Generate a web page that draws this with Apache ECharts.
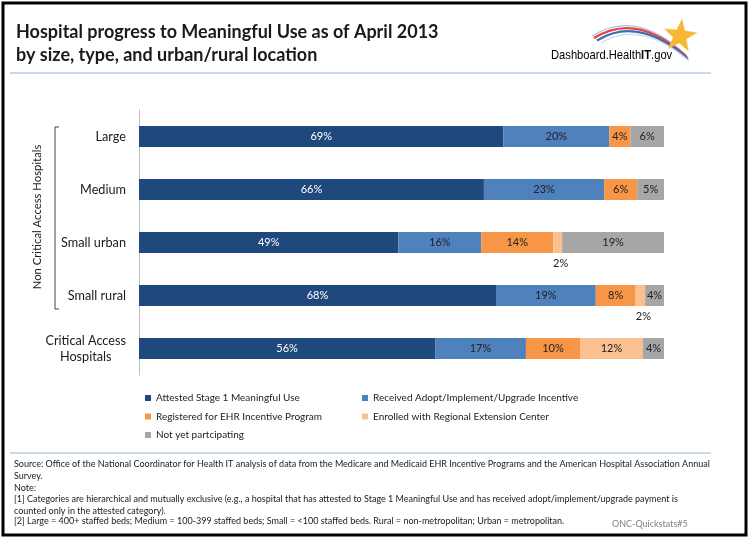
<!DOCTYPE html>
<html>
<head>
<meta charset="utf-8">
<script src="https://cdn.jsdelivr.net/npm/echarts@6/dist/echarts.min.js"></script>
<style>
html,body{margin:0;padding:0;background:#fff;}
#main{width:748px;height:539px;}
</style>
</head>
<body>
<div id="main"></div>
<script>
// ---- data ----
const categories = ['Large', 'Medium', 'Small urban', 'Small rural', 'Critical Access\nHospitals'];
const seriesNames = ['Attested Stage 1 Meaningful Use', 'Received Adopt/Implement/Upgrade Incentive', 'Registered for EHR Incentive Program', 'Enrolled with Regional Extension Center', 'Not yet partcipating'];
const attested   = [69.4, 65.7, 49.4, 68.0, 56.4];
const received   = [20.2, 22.9, 15.8, 19.0, 17.3];
const registered = [4.0, 6.3, 13.7, 7.6, 10.3];
const enrolled   = [0, 0, 1.7, 1.8, 12.0];
const notYet     = [6.4, 5.1, 19.4, 3.6, 4.0];
const footLines = [
  'Source: Office of the National Coordinator for Health IT analysis of data from the Medicare and Medicaid EHR Incentive Programs and the American Hospital Association Annual',
  'Survey.',
  'Note:',
  '[1] Categories are hierarchical and mutually exclusive (e.g., a hospital that has attested to Stage 1 Meaningful Use and has received adopt/implement/upgrade payment is',
  'counted only in the attested category).',
  '[2] Large = 400+ staffed beds; Medium = 100-399 staffed beds; Small = <100 staffed beds. Rural = non-metropolitan; Urban = metropolitan.'
];

const colors = ['#1F497D', '#4F81BD', '#F79646', '#FAC090', '#A6A6A6'];
const FONT = 'Lato, "Open Sans", sans-serif';

function makeData(arr, smallBelow) {
  return arr.map(v => {
    const item = { value: v };
    if (v <= 0) item.label = { show: false };
    else if (smallBelow && v < 3) item.label = { position: 'bottom', distance: 5, offset: [3, 0], color: '#222' };
    return item;
  });
}

const allSeries = [attested, received, registered, enrolled, notYet].map((arr, i) => ({
  name: seriesNames[i],
  type: 'bar',
  stack: 'total',
  barWidth: 21,
  itemStyle: { color: colors[i] },
  label: {
    show: true,
    position: 'inside',
    color: i === 0 ? '#ffffff' : '#222222',
    fontSize: 11,
    fontFamily: FONT,
    formatter: p => Math.round(p.value) + '%'
  },
  emphasis: { disabled: true },
  data: makeData(arr, i === 3)
}));

const chart = echarts.init(document.getElementById('main'), null, { renderer: 'canvas' });

function starPoints(cx, cy, R, r, rot) {
  const pts = [];
  for (let k = 0; k < 10; k++) {
    const ang = rot + k * Math.PI / 5 - Math.PI / 2;
    const rad = k % 2 === 0 ? R : r;
    pts.push([cx + rad * Math.cos(ang), cy + rad * Math.sin(ang)]);
  }
  return pts;
}

const graphics = [
  { type: 'rect', shape: { x: 3, y: 3, width: 743, height: 532 }, style: { fill: 'none', stroke: '#000', lineWidth: 3 }, z: 100 },
  { type: 'line', shape: { x1: 10, y1: 73, x2: 711, y2: 73 }, style: { stroke: '#95B3D7', lineWidth: 1.2 } },
  { type: 'line', shape: { x1: 10, y1: 453, x2: 711, y2: 453 }, style: { stroke: '#95B3D7', lineWidth: 1.2 } },
  // logo swoosh
  { type: 'bezierCurve', shape: { x1: 592, y1: 36, cpx1: 636, cpy1: 8, x2: 686, y2: 55 }, style: { stroke: '#A9C1E3', lineWidth: 1.2, fill: 'none' } },
  { type: 'bezierCurve', shape: { x1: 594, y1: 38, cpx1: 637, cpy1: 11, x2: 687, y2: 57 }, style: { stroke: '#E8423F', lineWidth: 2.2, fill: 'none' } },
  { type: 'bezierCurve', shape: { x1: 597, y1: 40.5, cpx1: 638, cpy1: 15, x2: 688, y2: 59 }, style: { stroke: '#3C6DB5', lineWidth: 2.2, fill: 'none' } },
  { type: 'bezierCurve', shape: { x1: 601, y1: 43, cpx1: 640, cpy1: 19, x2: 689, y2: 61 }, style: { stroke: '#D5DFEE', lineWidth: 1.5, fill: 'none' } },
  { type: 'polygon', shape: { points: starPoints(680, 36, 17, 7, 0.12) }, style: { fill: '#F7B733', stroke: '#F4C55A', lineWidth: 0.5 } },
  { type: 'text', x: 551, y: 55, scaleX: 0.86,
    style: {
      text: '{a|Dashboard.Health}{b|IT}{a|.gov}',
      textVerticalAlign: 'middle',
      rich: {
        a: { fontSize: 13, fontFamily: '"Liberation Sans", Arial, sans-serif', color: '#2B5C9E' },
        b: { fontSize: 13, fontWeight: 'bold', fontFamily: '"Liberation Sans", Arial, sans-serif', color: '#2B5C9E' }
      }
    } },
  // bracket
  { type: 'polyline', shape: { points: [[59, 127], [55, 127], [55, 309], [59, 309]] }, style: { stroke: '#404040', lineWidth: 1, fill: 'none' } },
  { type: 'text', x: 37, y: 217, rotation: Math.PI / 2, style: { text: 'Non Critical Access Hospitals', font: '11.3px ' + FONT, fill: '#1a1a1a', textAlign: 'center', textVerticalAlign: 'middle' } },
  { type: 'text', x: 612, y: 524, style: { text: 'ONC-Quickstats#5', font: '9px ' + FONT, fill: '#7f7f7f', textVerticalAlign: 'middle' } }
];
const footYs = [464, 476, 488, 499, 511, 521];
footLines.forEach((t, i) => {
  graphics.push({ type: 'text', x: 14, y: footYs[i], style: { text: t, font: '9px ' + FONT, fill: '#1a1a1a', textVerticalAlign: 'middle' } });
});

chart.setOption({
  animation: false,
  textStyle: { fontFamily: FONT },
  title: {
    text: 'Hospital progress to Meaningful Use as of April 2013\nby size, type, and urban/rural location',
    left: 11, top: 16,
    textStyle: { fontSize: 18, fontWeight: 'bold', color: '#1a1a1a', lineHeight: 23, fontFamily: FONT }
  },
  legend: [
    {
      data: [seriesNames[0], seriesNames[2], seriesNames[4]],
      orient: 'vertical', left: 140, top: 387,
      icon: 'rect', itemWidth: 6, itemHeight: 6, itemGap: 6.5,
      textStyle: { fontSize: 10, color: '#222', lineHeight: 12, fontFamily: FONT },
      selectedMode: false
    },
    {
      data: [seriesNames[1], seriesNames[3]],
      orient: 'vertical', left: 357, top: 387,
      icon: 'rect', itemWidth: 6, itemHeight: 6, itemGap: 6.5,
      textStyle: { fontSize: 10, color: '#222', lineHeight: 12, fontFamily: FONT },
      selectedMode: false
    }
  ],
  grid: { left: 139, right: 84, top: 110, height: 265, containLabel: false },
  xAxis: { type: 'value', min: 0, max: 100, show: false },
  yAxis: {
    type: 'category',
    inverse: true,
    data: categories,
    axisTick: { show: false },
    axisLine: { show: true, lineStyle: { color: '#BFBFBF', width: 1 } },
    axisLabel: {
      margin: 13,
      color: '#1a1a1a',
      fontSize: 12.7,
      lineHeight: 16,
      fontFamily: FONT,
      formatter: v => v.split('\n').map(s => '{c|' + s + '}').join('\n'),
      rich: { c: { align: 'center', fontSize: 12.7, lineHeight: 16, color: '#1a1a1a', fontFamily: FONT } }
    },
    splitLine: { show: false }
  },
  series: allSeries,
  graphic: graphics
});
</script>
</body>
</html>
